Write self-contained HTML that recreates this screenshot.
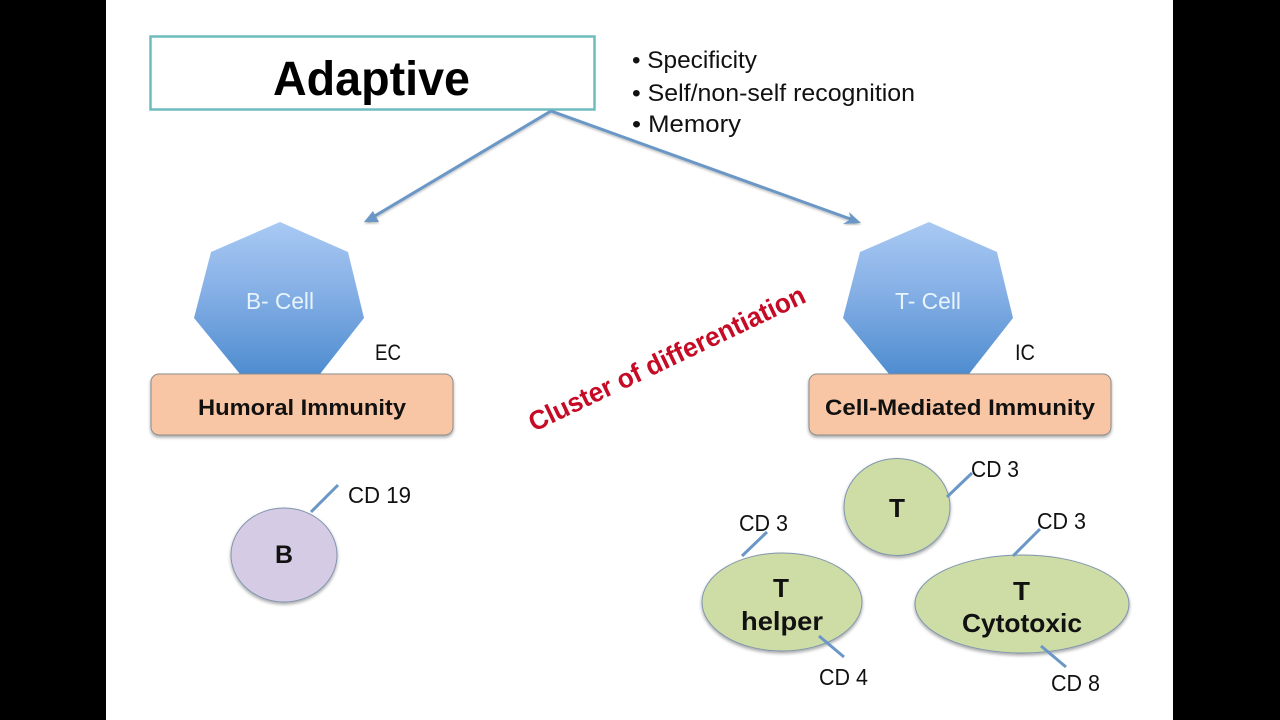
<!DOCTYPE html>
<html><head><meta charset="utf-8"><style>
html,body{margin:0;padding:0;background:#000;width:1280px;height:720px;overflow:hidden}
svg{display:block}
text{font-family:"Liberation Sans",sans-serif}
</style></head><body>
<svg width="1280" height="720" viewBox="0 0 1280 720" xmlns="http://www.w3.org/2000/svg">
<defs>
<linearGradient id="hep" x1="0" y1="0" x2="0" y2="1"><stop offset="0" stop-color="#a9c9f3"/><stop offset="0.45" stop-color="#86b0e6"/><stop offset="1" stop-color="#4f8dd0"/></linearGradient>
<filter id="sh" x="-10%" y="-10%" width="120%" height="130%"><feDropShadow dx="0" dy="2" stdDeviation="1.5" flood-color="#000" flood-opacity=".35"/></filter>
<filter id="ls" x="-10%" y="-10%" width="120%" height="120%"><feDropShadow dx="0" dy="1.5" stdDeviation="1" flood-color="#000" flood-opacity=".25"/></filter>
</defs>
<rect width="1280" height="720" fill="#000"/>
<rect x="106" y="0" width="1067" height="720" fill="#fff"/>

<rect x="150.500" y="36.500" width="444" height="73" fill="#fff" stroke="#6fbcbc" stroke-width="2.500"/>
<text x="273" y="95" font-size="48" font-weight="bold" textLength="197" lengthAdjust="spacingAndGlyphs">Adaptive</text>

<g font-size="24" fill="#111">
<text x="632" y="68" textLength="125" lengthAdjust="spacingAndGlyphs">• Specificity</text>
<text x="632" y="101" textLength="283" lengthAdjust="spacingAndGlyphs">• Self/non-self recognition</text>
<text x="632" y="132" textLength="109" lengthAdjust="spacingAndGlyphs">• Memory</text>
</g>

<g fill="none" stroke="#6a97c6" stroke-width="3" filter="url(#ls)">
<polyline points="551,111 368,220"/>
<polyline points="551,111 856,221"/>
</g>
<g fill="#6a97c6" filter="url(#ls)">
<polygon points="364,222 373,211 375,215 379,222"/>
<polygon points="861,223 849,212 851,219 843,224"/>
</g>

<polygon points="280,222 348,252 364,318 320,374 240,374 194,318 211,252" fill="url(#hep)"/>
<polygon points="929,222 997,252 1013,318 969,374 889,374 843,318 860,252" fill="url(#hep)"/>
<text x="246" y="309" font-size="23" fill="#e8f3fb" textLength="68" lengthAdjust="spacingAndGlyphs">B- Cell</text>
<text x="895" y="309" font-size="23" fill="#e8f3fb" textLength="66" lengthAdjust="spacingAndGlyphs">T- Cell</text>
<text x="375" y="360" font-size="22" fill="#111" textLength="26" lengthAdjust="spacingAndGlyphs">EC</text>
<text x="1015" y="360" font-size="22" fill="#111" textLength="20" lengthAdjust="spacingAndGlyphs">IC</text>

<rect x="151" y="374" width="302" height="61" rx="8" fill="#f8c6a4" stroke="#8d8d8d" stroke-width="1" filter="url(#sh)"/>
<rect x="809" y="374" width="302" height="61" rx="8" fill="#f8c6a4" stroke="#8d8d8d" stroke-width="1" filter="url(#sh)"/>
<text x="198" y="415" font-size="22" font-weight="bold" fill="#111" textLength="208" lengthAdjust="spacingAndGlyphs">Humoral Immunity</text>
<text x="825" y="415" font-size="22" font-weight="bold" fill="#111" textLength="270" lengthAdjust="spacingAndGlyphs">Cell-Mediated Immunity</text>

<text transform="translate(534,432) rotate(-25.500)" font-size="27" font-weight="bold" fill="#c50b25" textLength="303" lengthAdjust="spacingAndGlyphs">Cluster of differentiation</text>

<ellipse cx="284" cy="555" rx="53" ry="47" fill="#d6cbe4" stroke="#7f95ad" stroke-width="1" filter="url(#sh)"/>
<ellipse cx="897" cy="507" rx="53" ry="48.500" fill="#cedda6" stroke="#7f95ad" stroke-width="1" filter="url(#sh)"/>
<ellipse cx="782" cy="602" rx="80" ry="49" fill="#cedda6" stroke="#7f95ad" stroke-width="1" filter="url(#sh)"/>
<ellipse cx="1022" cy="604" rx="107" ry="49" fill="#cedda6" stroke="#7f95ad" stroke-width="1" filter="url(#sh)"/>

<g stroke="#6a97c6" stroke-width="3" fill="none">
<line x1="311" y1="512" x2="338" y2="485"/>
<line x1="947" y1="497" x2="972" y2="473"/>
<line x1="742" y1="556" x2="767" y2="532"/>
<line x1="1013" y1="556" x2="1040" y2="529"/>
<line x1="819" y1="636" x2="844" y2="657"/>
<line x1="1041" y1="646" x2="1066" y2="667"/>
</g>

<g font-size="23" fill="#111">
<text x="348" y="503" textLength="63" lengthAdjust="spacingAndGlyphs">CD 19</text>
<text x="971" y="477" textLength="48" lengthAdjust="spacingAndGlyphs">CD 3</text>
<text x="739" y="531" textLength="49" lengthAdjust="spacingAndGlyphs">CD 3</text>
<text x="1037" y="529" textLength="49" lengthAdjust="spacingAndGlyphs">CD 3</text>
<text x="819" y="685" textLength="49" lengthAdjust="spacingAndGlyphs">CD 4</text>
<text x="1051" y="691" textLength="49" lengthAdjust="spacingAndGlyphs">CD 8</text>
</g>

<g font-weight="bold" fill="#111">
<text x="275" y="563" font-size="25" textLength="18" lengthAdjust="spacingAndGlyphs">B</text>
<text x="889" y="517" font-size="26" textLength="16" lengthAdjust="spacingAndGlyphs">T</text>
<text x="773" y="597" font-size="26" textLength="16" lengthAdjust="spacingAndGlyphs">T</text>
<text x="741" y="630" font-size="26" textLength="82" lengthAdjust="spacingAndGlyphs">helper</text>
<text x="1013" y="600" font-size="26" textLength="17" lengthAdjust="spacingAndGlyphs">T</text>
<text x="962" y="632" font-size="26" textLength="120" lengthAdjust="spacingAndGlyphs">Cytotoxic</text>
</g>
</svg>
</body></html>
